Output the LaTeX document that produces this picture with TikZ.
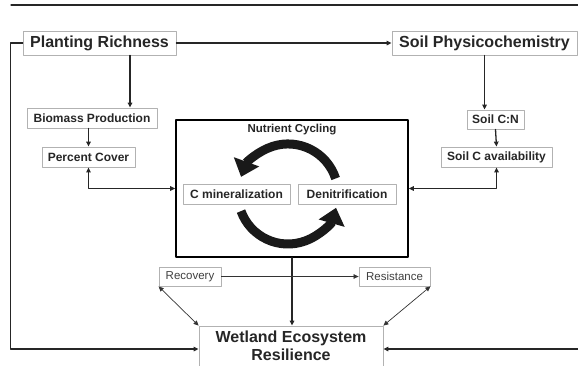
\documentclass[tikz,border=0pt]{standalone}
\usepackage{fontspec}
\setmainfont{Liberation Sans}
\usetikzlibrary{arrows.meta}

\tikzset{
  box/.style={draw=gray!60,line width=0.8pt,fill=white,text=black!85,inner sep=0pt},
  bigbox/.style={box,font=\fontsize{16}{18}\selectfont\bfseries},
  smallbox/.style={box,font=\fontsize{12}{14}\selectfont\bfseries},
  plainbox/.style={box,font=\fontsize{11.5}{14}\selectfont,text=black!75},
  link/.style={line width=1.3pt,draw=black!85},
  thinlink/.style={line width=0.7pt,draw=black!80},
  cyclearrow/.style={line width=9pt,draw=black!90,line cap=butt,-{Triangle[width=26pt,length=16pt]}}
}

\begin{document}
\begin{tikzpicture}[line cap=round,line join=round,>={Triangle[length=5pt,width=4.5pt]},x=1pt,y=-1pt]
        \useasboundingbox (0,0) rectangle (578,365);
        \draw [link] (11,5) -- (578,5);
        \node [bigbox,minimum width=153pt,minimum height=24pt] (plant) at (99.5,43) {Planting Richness};
        \node [bigbox,minimum width=185pt,minimum height=24pt] (soilphys) at (484.5,43) {Soil Physicochemistry};
        \node [smallbox,minimum width=130pt,minimum height=20pt] (biomass) at (92,118) {Biomass Production};
        \node [smallbox,minimum width=93pt,minimum height=20pt] (cover) at (88.5,157) {Percent Cover};
        \node [smallbox,minimum width=57pt,minimum height=19pt] (soilcn) at (495.5,119.5) {Soil C:N};
        \node [smallbox,minimum width=111pt,minimum height=20pt] (soilc) at (496.5,157) {Soil C availability};
        \node [box,draw=black,line width=1.6pt,minimum width=232pt,minimum height=137pt] (nutrient) at (292,188.5) {};
        \node [font=\fontsize{11.5}{14}\selectfont\bfseries,text=black!85] (nuttitle) at (292,130) {Nutrient Cycling};
        \node [smallbox,minimum width=107pt,minimum height=20pt] (cmin) at (236.5,194) {C mineralization};
        \node [smallbox,minimum width=98pt,minimum height=20pt] (denit) at (347,194) {Denitrification};
        \node [plainbox,minimum width=62pt,minimum height=19pt] (recovery) at (190,276.5) {Recovery};
        \node [plainbox,minimum width=71pt,minimum height=19pt] (resistance) at (394.5,276.5) {Resistance};
        \node [bigbox,align=center,minimum width=184pt,minimum height=46pt] (wetland) at (291,349) {Wetland Ecosystem\\Resilience\rule[-6pt]{0pt}{0pt}};
        \coordinate (rightin) at (578,349);

        \draw [cyclearrow] (335.6,178.5) arc[start angle=-18,end angle=-160,radius=50];
        \draw [cyclearrow] (241,211.1) arc[start angle=160,end angle=16,radius=50];

        \draw [link,->] (plant.east) -- (soilphys.west);
        \draw [link,->] (plant.south -| 130,0) -- (biomass.north -| 130,0);
        \draw [link,->] (cover.north |- biomass.south) -- (cover.north);
        \draw [link,->] (soilphys.south) -- (soilphys.south |- soilcn.north);
        \draw [link,->] (soilcn.south) -- (soilc.north);
        \draw [link,<->] (cover.south) |- (nutrient.west);
        \draw [link,<->] (soilc.south) |- (nutrient.east);
        \draw [link,->] (nutrient.south) -- (wetland.north -| nutrient.south);
        \draw [link,->] (plant.west) -- ++(-12,0) |- (wetland.west);
        \draw [link,->] (rightin) -- (wetland.east);
        \draw [thinlink,->] (recovery.east) -- (resistance.west);
        \draw [thinlink,<->] (recovery.south west) -- (wetland.north west);
        \draw [thinlink,<->] (resistance.south east) -- (wetland.north east);
\end{tikzpicture}
\end{document}
